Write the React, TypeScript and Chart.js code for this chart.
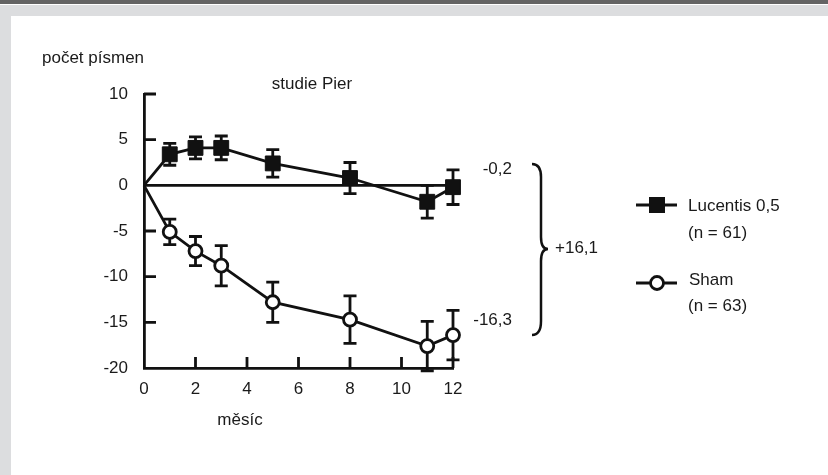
import React, { useEffect, useRef } from "react";
import { Chart, registerables } from "chart.js";

Chart.register(...registerables);

// ---- data ----
const months = [0, 1, 2, 3, 5, 8, 11, 12];
const lucentisMean = [0, 3.4, 4.1, 4.1, 2.4, 0.8, -1.8, -0.2];
const lucentisErr = [0, 1.2, 1.2, 1.3, 1.5, 1.7, 1.8, 1.9];
const shamMean = [0, -5.1, -7.2, -8.8, -12.8, -14.7, -17.6, -16.4];
const shamErr = [0, 1.4, 1.6, 2.2, 2.2, 2.6, 2.7, 2.7];

const seriesNames = ["Lucentis 0,5", "Sham"];
const seriesCounts = ["(n = 61)", "(n = 63)"];
const endLabels = ["-0,2", "-16,3"];
const diffLabel = "+16,1";
const yTitle = "počet písmen";
const xTitle = "měsíc";
const chartTitle = "studie Pier";
const xTickValues = [2, 4, 6, 8, 10, 12];
const yTickValues = [10, 5, -5, -10, -15];

const FONT = "Liberation Sans, Arial, Helvetica, sans-serif";
const FS = 17;
const LW = 2.8;

const overlay = {
  id: "overlay",
  beforeDraw(chart: any) {
    const ctx = chart.ctx;
    ctx.save();
    ctx.fillStyle = "#ffffff";
    ctx.fillRect(0, 0, chart.width, chart.height);
    ctx.fillStyle = "#646464";
    ctx.fillRect(0, 0, chart.width, 4);
    ctx.fillStyle = "#dcdddf";
    ctx.fillRect(0, 5, chart.width, 11);
    ctx.fillRect(0, 5, 11, chart.height - 5);
    ctx.restore();
  },
  beforeDatasetsDraw(chart: any) {
    const ctx = chart.ctx;
    const xs = chart.scales.x;
    const ys = chart.scales.y;
    ctx.save();
    ctx.strokeStyle = "#111";
    ctx.lineWidth = LW;
    // zero reference line
    ctx.beginPath();
    ctx.moveTo(xs.getPixelForValue(0), ys.getPixelForValue(0));
    ctx.lineTo(xs.getPixelForValue(12), ys.getPixelForValue(0));
    ctx.stroke();
    // error bars
    const series = [
      [lucentisMean, lucentisErr],
      [shamMean, shamErr],
    ];
    series.forEach(([m, e]) => {
      months.forEach((mo, i) => {
        if (!e[i]) return;
        const x = xs.getPixelForValue(mo);
        const y1 = ys.getPixelForValue(m[i] + e[i]);
        const y2 = ys.getPixelForValue(m[i] - e[i]);
        ctx.beginPath();
        ctx.moveTo(x, y1);
        ctx.lineTo(x, y2);
        ctx.moveTo(x - 6.5, y1);
        ctx.lineTo(x + 6.5, y1);
        ctx.moveTo(x - 6.5, y2);
        ctx.lineTo(x + 6.5, y2);
        ctx.stroke();
      });
    });
    ctx.restore();
  },
  afterDraw(chart: any) {
    const ctx = chart.ctx;
    const xs = chart.scales.x;
    const ys = chart.scales.y;
    const area = chart.chartArea;
    ctx.save();
    ctx.strokeStyle = "#111";
    ctx.lineWidth = LW;
    // inward ticks
    ctx.beginPath();
    yTickValues.forEach((v) => {
      const y = ys.getPixelForValue(v);
      ctx.moveTo(area.left, y);
      ctx.lineTo(area.left + 12, y);
    });
    xTickValues.forEach((v) => {
      const x = xs.getPixelForValue(v);
      ctx.moveTo(x, area.bottom);
      ctx.lineTo(x, area.bottom - 11);
    });
    ctx.stroke();

    // texts
    ctx.fillStyle = "#1a1a1a";
    ctx.font = `${FS}px ${FONT}`;
    ctx.textBaseline = "middle";
    ctx.textAlign = "left";
    ctx.fillText(yTitle, 42, 58);
    ctx.textAlign = "center";
    ctx.fillText(chartTitle, 312, 84);
    ctx.fillText(xTitle, 240, 420);
    ctx.textAlign = "right";
    ctx.fillText(endLabels[0], 512, 169);
    ctx.fillText(endLabels[1], 512, 320);
    ctx.textAlign = "left";
    ctx.fillText(diffLabel, 555, 248);

    // brace
    ctx.lineWidth = 2.5;
    ctx.beginPath();
    ctx.moveTo(532, 164);
    ctx.quadraticCurveTo(541, 164, 541, 177);
    ctx.lineTo(541, 237);
    ctx.quadraticCurveTo(541, 249, 548, 249);
    ctx.quadraticCurveTo(541, 249, 541, 261);
    ctx.lineTo(541, 321);
    ctx.quadraticCurveTo(541, 335, 532, 335);
    ctx.stroke();

    // legend
    const ly = [205, 283];
    ly.forEach((y, i) => {
      ctx.lineWidth = LW;
      ctx.beginPath();
      ctx.moveTo(636, y);
      ctx.lineTo(677, y);
      ctx.stroke();
      if (i === 0) {
        ctx.fillStyle = "#111";
        ctx.fillRect(649, y - 8, 16, 16);
      } else {
        ctx.fillStyle = "#fff";
        ctx.beginPath();
        ctx.arc(657, y, 6.5, 0, Math.PI * 2);
        ctx.fill();
        ctx.stroke();
      }
    });
    ctx.fillStyle = "#1a1a1a";
    ctx.textAlign = "left";
    ctx.fillText(seriesNames[0], 688, 206);
    ctx.fillText(seriesCounts[0], 688, 233);
    ctx.fillText(seriesNames[1], 689, 280);
    ctx.fillText(seriesCounts[1], 688, 306);
    ctx.restore();
  },
};

export default function App() {
  const ref = useRef<HTMLCanvasElement | null>(null);
  useEffect(() => {
    if (!ref.current) return;
    const radii = (r: number) => months.map((m) => (m === 0 ? 0 : r));
    const chart = new Chart(ref.current, {
      type: "line",
      data: {
        datasets: [
          {
            label: seriesNames[0],
            data: months.map((m, i) => ({ x: m, y: lucentisMean[i] })),
            borderColor: "#111",
            borderWidth: LW,
            backgroundColor: "#111",
            pointStyle: "rect",
            pointRadius: radii(10.5),
            pointBorderWidth: 1,
            pointBackgroundColor: "#111",
            pointBorderColor: "#111",
            tension: 0,
          },
          {
            label: seriesNames[1],
            data: months.map((m, i) => ({ x: m, y: shamMean[i] })),
            borderColor: "#111",
            borderWidth: LW,
            backgroundColor: "#fff",
            pointStyle: "circle",
            pointRadius: radii(6.5),
            pointBorderWidth: LW,
            pointBackgroundColor: "#fff",
            pointBorderColor: "#111",
            tension: 0,
          },
        ],
      },
      options: {
        responsive: false,
        animation: false,
        events: [],
        clip: false as any,
        layout: { padding: { left: 0, top: 94, right: 828 - 453, bottom: 0 } },
        plugins: {
          legend: { display: false },
          title: { display: false },
          tooltip: { enabled: false },
        },
        scales: {
          x: {
            type: "linear",
            min: 0,
            max: 12,
            grid: { display: false, drawTicks: false },
            border: { display: true, color: "#111", width: LW },
            ticks: {
              stepSize: 2,
              padding: 11,
              color: "#1a1a1a",
              font: { family: FONT, size: FS },
            },
            afterFit: (s: any) => {
              s.height = 475 - 368;
            },
          },
          y: {
            type: "linear",
            min: -20,
            max: 10,
            grid: { display: false, drawTicks: false },
            border: { display: true, color: "#111", width: LW },
            ticks: {
              stepSize: 5,
              padding: 16,
              color: "#1a1a1a",
              font: { family: FONT, size: FS },
            },
            afterFit: (s: any) => {
              s.width = 144;
            },
          },
        },
      },
      plugins: [overlay],
    });
    return () => chart.destroy();
  }, []);
  return (
    <div style={{ position: "absolute", left: 0, top: 0, width: 828, height: 475, background: "#fff" }}>
      <canvas ref={ref} width={828} height={475} style={{ display: "block", width: 828, height: 475 }} />
    </div>
  );
}
